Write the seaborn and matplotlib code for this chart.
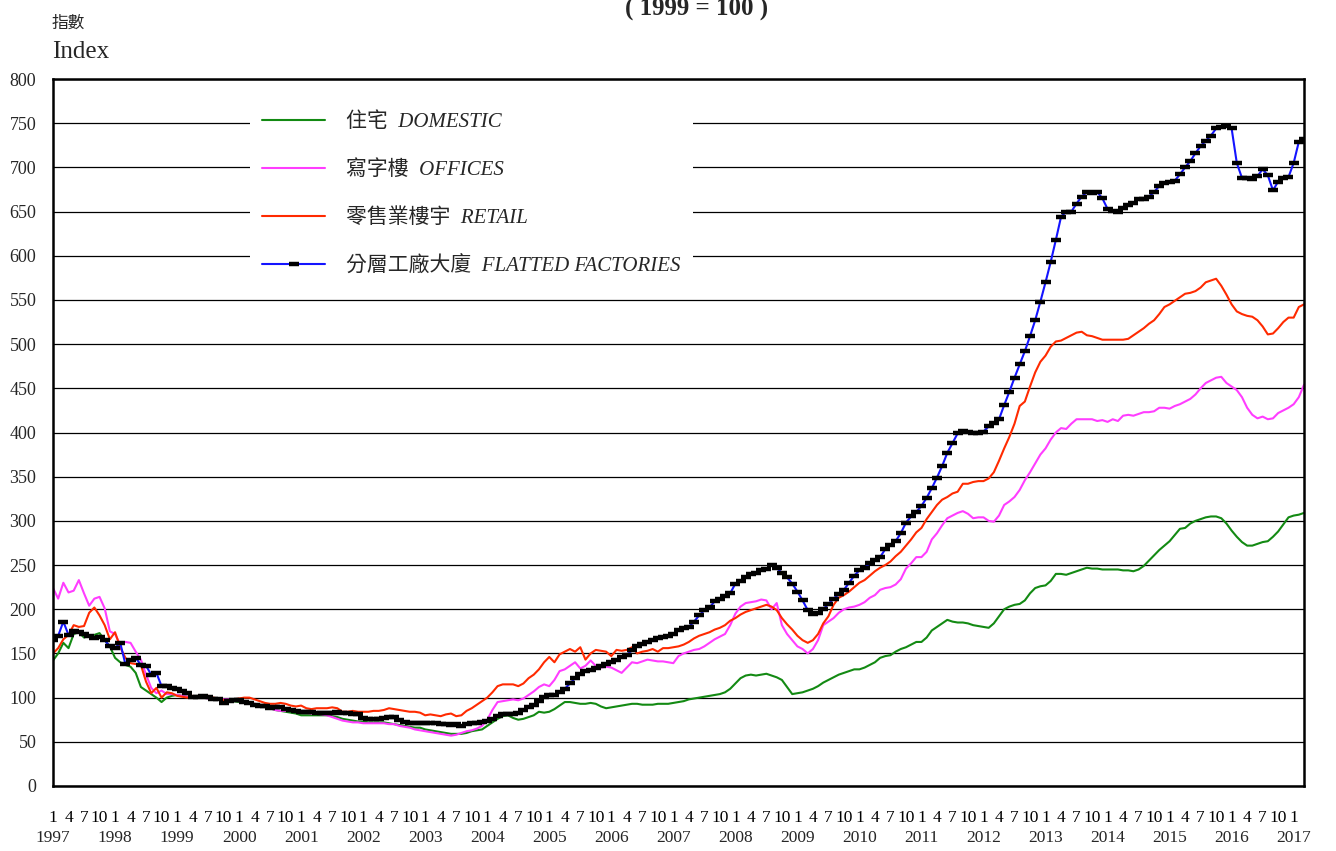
import matplotlib

matplotlib.use("Agg")

import matplotlib.pyplot as plt
from matplotlib.lines import Line2D
import numpy as np
import pandas as pd
import seaborn as sns


# monthly index values, Jan 1997 - Mar 2017 (1999 = 100)
DOMESTIC = [
    142, 150, 162, 156, 172, 174, 168, 170, 171, 173, 165, 158,  # 1997
    145, 140, 137, 135, 128, 112, 108, 104, 100, 95, 100, 102,  # 1998
    103, 102, 101, 100, 100, 100, 99, 99, 98, 97, 96, 96,  # 1999
    95, 95, 94, 93, 92, 90, 88, 86, 85, 84, 83, 82,  # 2000
    80, 80, 80, 80, 80, 80, 79, 78, 76, 75, 74, 73,  # 2001
    73, 72, 72, 72, 72, 71, 70, 69, 68, 67, 66, 66,  # 2002
    64, 63, 62, 61, 60, 59, 59, 59, 60, 62, 63, 64,  # 2003
    68, 72, 76, 79, 80, 77, 75, 76, 78, 80, 84, 83,  # 2004
    84, 87, 91, 95, 95, 94, 93, 93, 94, 93, 90, 88,  # 2005
    89, 90, 91, 92, 93, 93, 92, 92, 92, 93, 93, 93,  # 2006
    94, 95, 96, 98, 99, 100, 101, 102, 103, 104, 106, 110,  # 2007
    116, 122, 125, 126, 125, 126, 127, 125, 123, 120, 112, 104,  # 2008
    105, 106, 108, 110, 113, 117, 120, 123, 126, 128, 130, 132,  # 2009
    132, 134, 137, 140, 145, 147, 148, 152, 155, 157, 160, 163,  # 2010
    163, 168, 176, 180, 184, 188, 186, 185, 185, 184, 182, 181,  # 2011
    180, 179, 184, 192, 200, 203, 205, 206, 210, 218, 224, 226,  # 2012
    227, 232, 240, 240, 239, 241, 243, 245, 247, 246, 246, 245,  # 2013
    245, 245, 245, 244, 244, 243, 245, 249, 255, 261, 267, 272,  # 2014
    277, 284, 291, 292, 297, 300, 302, 304, 305, 305, 303, 297,  # 2015
    289, 282, 276, 272, 272, 274, 276, 277, 282, 288, 296, 304,  # 2016
    306, 307, 309,  # 2017
]

OFFICES = [
    224, 212, 230, 219, 221, 233, 218, 204, 212, 214, 201, 175,
    172, 160, 163, 162, 152, 143, 126, 111, 105, 108, 104, 104,
    103, 102, 101, 101, 100, 100, 99, 99, 99, 98, 98, 97,
    96, 95, 94, 93, 92, 90, 88, 86, 85, 85, 85, 84,
    84, 83, 82, 82, 81, 80, 78, 76, 74, 73, 72, 72,
    71, 71, 71, 71, 71, 70, 70, 68, 67, 66, 64, 63,
    62, 61, 60, 59, 58, 57, 58, 60, 62, 63, 65, 68,
    75, 86, 95, 96, 97, 98, 97, 99, 103, 107, 112, 115,
    113, 120, 130, 132, 136, 140, 133, 136, 142, 136, 134, 135,
    134, 131, 128, 134, 140, 139, 141, 143, 142, 141, 141, 140,
    139, 147, 150, 152, 154, 155, 158, 162, 166, 169, 172, 182,
    195, 203, 207, 208, 209, 211, 210, 200, 207, 182, 172, 165,
    158, 155, 150, 155, 165, 182, 186, 190, 196, 200, 202, 203,
    205, 208, 213, 216, 222, 224, 225, 228, 234, 246, 252, 259,
    259, 265, 279, 286, 295, 303, 306, 309, 311, 308, 303, 304,
    304, 300, 299, 306, 318, 322, 327, 335, 346, 355, 365, 375,
    382, 392, 400, 405, 404, 410, 415, 415, 415, 415, 413, 414,
    412, 415, 413, 419, 420, 419, 421, 423, 423, 424, 428, 428,
    427, 430, 432, 435, 438, 443, 450, 456, 459, 462, 463, 456,
    452, 448, 440, 428, 420, 416, 418, 415, 416, 422, 425, 428,
    432, 440, 454,
]

RETAIL = [
    150, 156, 166, 171, 182, 180, 181, 196, 202, 193, 182, 166,
    174, 157, 145, 139, 138, 137, 118, 105, 111, 100, 106, 105,
    102, 101, 100, 102, 101, 103, 102, 100, 99, 97, 97, 98,
    99, 100, 100, 98, 96, 94, 93, 93, 94, 93, 91, 90,
    91, 88, 87, 88, 88, 88, 89, 88, 84, 84, 85, 84,
    84, 84, 85, 85, 86, 88, 87, 86, 85, 84, 84, 83,
    80, 81, 80, 79, 81, 82, 79, 80, 85, 88, 92, 96,
    100, 106, 113, 115, 115, 115, 113, 116, 122, 126, 132, 140,
    146, 140, 149, 152, 155, 152, 157, 143, 150, 154, 153, 152,
    147, 154, 153, 154, 157, 150, 152, 153, 155, 152, 156, 156,
    157, 158, 160, 163, 167, 170, 172, 174, 177, 179, 182, 187,
    190, 194, 197, 199, 201, 203, 205, 203, 199, 190, 183, 177,
    170, 165, 162, 165, 172, 184, 192, 205, 213, 216, 220, 225,
    230, 233, 238, 243, 247, 250, 254, 260, 265, 272, 279, 287,
    292, 302, 310, 318, 324, 327, 331, 333, 342, 342, 344, 345,
    345, 348, 355, 368, 382, 395, 410, 430, 435, 452, 468, 480,
    487, 497, 503, 504, 507, 510, 513, 514, 510, 509, 507, 505,
    505, 505, 505, 505, 506, 510, 514, 518, 523, 527, 534, 542,
    545, 549, 553, 557, 558, 560, 564, 570, 572, 574, 566, 556,
    545, 537, 534, 532, 531, 527, 520, 511, 512, 518, 525, 530,
    530, 542, 545,
]

FACTORIES = [
    165, 170, 186, 171, 175, 174, 172, 170, 167, 169, 165, 158,
    156, 162, 138, 143, 145, 137, 136, 126, 128, 113, 113, 111,
    110, 108, 105, 101, 101, 102, 101, 99, 98, 94, 96, 97,
    97, 95, 94, 92, 91, 90, 88, 89, 89, 87, 86, 85,
    84, 84, 84, 83, 83, 83, 83, 84, 83, 83, 82, 81,
    77, 76, 76, 76, 77, 78, 78, 75, 72, 71, 71, 71,
    71, 71, 71, 70, 70, 69, 70, 68, 70, 71, 71, 72,
    74, 76, 79, 81, 82, 82, 83, 86, 89, 92, 96, 101,
    103, 103, 106, 110, 116, 122, 127, 130, 131, 133, 136, 138,
    140, 143, 146, 148, 154, 158, 161, 163, 165, 167, 169, 170,
    172, 176, 179, 180, 186, 193, 199, 202, 209, 212, 215, 218,
    229, 232, 237, 240, 241, 244, 246, 250, 247, 241, 236, 229,
    220, 210, 199, 195, 196, 200, 206, 212, 217, 222, 230, 238,
    244, 247, 252, 256, 259, 268, 273, 277, 286, 298, 305, 310,
    317, 326, 337, 349, 362, 377, 388, 399, 402, 401, 400, 400,
    401, 407, 411, 415, 431, 446, 462, 477, 492, 509, 527, 548,
    570, 593, 618, 644, 650, 650, 659, 667, 672, 671, 672, 665,
    653, 651, 650, 654, 657, 660, 664, 664, 667, 672, 679, 682,
    684, 685, 692, 700, 707, 716, 724, 730, 736, 744, 746, 747,
    744, 705, 688, 688, 687, 690, 698, 691, 674, 684, 688, 689,
    705, 729, 732,
]

YEARS = list(range(1997, 2018))
QUARTER_MONTHS = [1, 4, 7, 10]

SERIES = {
    "住宅  DOMESTIC": DOMESTIC,
    "寫字樓  OFFICES": OFFICES,
    "零售業樓宇  RETAIL": RETAIL,
    "分層工廠大廈  FLATTED FACTORIES": FACTORIES,
}
COLORS = ["#138a13", "#ff3dff", "#ff2a00", "#1414ff"]

SERIF_CJK = ["Liberation Serif", "Noto Sans CJK TC"]


def main() -> None:
    sns.set_theme(style="white")
    plt.rcParams["font.family"] = SERIF_CJK
    plt.rcParams["axes.unicode_minus"] = False

    n = len(DOMESTIC)
    frames = []
    for name, values in SERIES.items():
        frames.append(pd.DataFrame({"month": np.arange(n), "value": values, "series": name}))
    df = pd.concat(frames, ignore_index=True)

    fig = plt.figure(figsize=(13.36, 8.51), dpi=100)
    ax = fig.add_axes([53 / 1336, 1 - 786 / 851, (1304 - 53) / 1336, (786 - 79) / 851])

    ax.set_ylim(0, 800)
    ax.set_xlim(0, n - 1)
    ax.set_yticks(range(0, 801, 50))
    ax.grid(axis="y", color="black", linewidth=0.9)
    ax.set_axisbelow(True)

    names = list(SERIES)
    for name, color in zip(names[:3], COLORS[:3]):
        sns.lineplot(data=df[df["series"] == name], x="month", y="value",
                     color=color, linewidth=1.5, ax=ax, legend=False)
    sns.lineplot(data=df[df["series"] == names[3]], x="month", y="value",
                 color=COLORS[3], linewidth=1.5, marker="_", markersize=7,
                 markeredgewidth=3.2, markeredgecolor="black", ax=ax, legend=False)

    # x ticks: every month, month number at quarters
    ticks = np.arange(n)
    labels = [str(m % 12 + 1) if (m % 12 + 1) in QUARTER_MONTHS else "" for m in ticks]
    ax.set_xticks(ticks)
    ax.set_xticklabels(labels, fontsize=12.5)
    ax.tick_params(axis="x", direction="in", length=5, width=1, pad=17, colors="black")
    ax.tick_params(axis="y", direction="in", length=4, width=1, pad=12, labelsize=13)

    # year row under the January ticks
    jan = [12 * i for i in range(len(YEARS)) if 12 * i < n]
    sec = ax.secondary_xaxis("bottom")
    sec.set_xticks(jan)
    sec.set_xticklabels([str(YEARS[i]) for i in range(len(jan))], fontsize=12.5)
    sec.tick_params(axis="x", length=0, pad=32)
    sec.spines["bottom"].set_visible(False)

    ax.set_xlabel("")
    ax.set_ylabel("")
    for spine in ax.spines.values():
        spine.set_color("black")
        spine.set_linewidth(1.8)

    handles = [
        Line2D([], [], color=COLORS[0], linewidth=1.5),
        Line2D([], [], color=COLORS[1], linewidth=1.5),
        Line2D([], [], color=COLORS[2], linewidth=1.5),
        Line2D([], [], color=COLORS[3], linewidth=1.5, marker="_", markersize=7,
               markeredgewidth=3.2, markeredgecolor="black"),
    ]
    leg = ax.legend(handles, names, loc="upper left", bbox_to_anchor=(0.149, 0.985),
                    frameon=True, facecolor="white", edgecolor="none", framealpha=1,
                    fancybox=False, handlelength=3.0, handletextpad=1.0,
                    labelspacing=1.35, borderpad=0.6, numpoints=1,
                    prop={"family": SERIF_CJK, "style": "italic", "size": 15})
    leg.get_frame().set_linewidth(0)

    fig.text(52 / 1336, 1 - 28 / 851, "指數", fontsize=12, ha="left", va="baseline")
    fig.text(52 / 1336, 1 - 58 / 851, "Index", fontsize=18, ha="left", va="baseline")
    fig.text(697 / 1336, 1 - 16 / 851, "( 1999 = 100 )", fontsize=18,
             fontweight="bold", ha="center", va="baseline")

    fig.savefig("out.png", dpi=100, facecolor="white")
    plt.close(fig)


if __name__ == "__main__":
    main()
